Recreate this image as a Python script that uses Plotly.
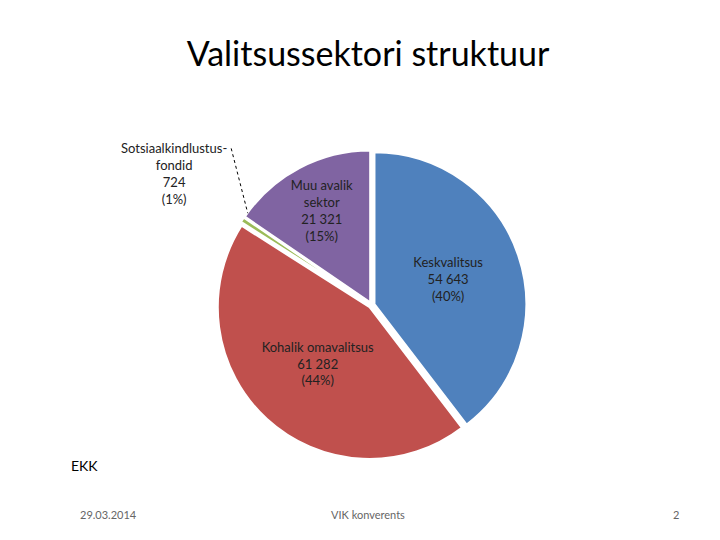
import plotly.graph_objects as go

labels = ["Keskvalitsus", "Kohalik omavalitsus", "Sotsiaalkindlustus-<br>fondid", "Muu avalik<br>sektor"]
values = [54643, 61282, 724, 21321]
value_text = ["54 643", "61 282", "724", "21 321"]
pct_text = ["(40%)", "(44%)", "(1%)", "(15%)"]
colors = ["#4F81BD", "#C0504D", "#9BBB59", "#8064A2"]

inside = [f"{l}<br>{v}<br>{p}" for l, v, p in zip(labels, value_text, pct_text)]
inside[2] = ""

fig = go.Figure()
fig.add_trace(go.Pie(
    labels=labels, values=values, text=inside, textinfo="text",
    textposition="inside", insidetextorientation="horizontal",
    sort=False, direction="clockwise", rotation=0,
    pull=[0.02, 0.02, 0.02, 0.02],
    marker=dict(colors=colors, line=dict(color="white", width=2)),
    textfont=dict(family="Lato", size=13, color="#222222"),
    domain=dict(x=[0.29, 0.72], y=[0.145, 0.755]),
    showlegend=False,
))

fig.add_annotation(x=0.23, y=0.76, xref="paper", yref="paper",
                   text=f"{labels[2]}<br>{value_text[2]}<br>{pct_text[2]}",
                   showarrow=False, xanchor="center", yanchor="top",
                   font=dict(family="Lato", size=13, color="#222222"))
fig.add_shape(type="line", xref="paper", yref="paper",
              x0=0.31, y0=0.74, x1=0.333, y1=0.62,
              line=dict(color="black", width=1, dash="dot"))

fig.update_layout(
    width=720, height=540, paper_bgcolor="white", plot_bgcolor="white",
    margin=dict(l=0, r=0, t=0, b=0),
    title=dict(text="Valitsussektori struktuur", x=0.5, y=0.915, xanchor="center",
               yanchor="middle", font=dict(family="Lato", size=34, color="black")),
)
fig.add_annotation(x=0.085, y=0.133, xref="paper", yref="paper", text="EKK",
                   showarrow=False, font=dict(family="Lato", size=14, color="black"))
fig.add_annotation(x=0.097, y=0.046, xref="paper", yref="paper", text="29.03.2014",
                   showarrow=False, font=dict(family="Lato", size=11, color="#666666"))
fig.add_annotation(x=0.5, y=0.046, xref="paper", yref="paper", text="VIK konverents",
                   showarrow=False, font=dict(family="Lato", size=11, color="#666666"))
fig.add_annotation(x=0.935, y=0.046, xref="paper", yref="paper", text="2",
                   showarrow=False, font=dict(family="Lato", size=11, color="#666666"))

fig.write_html("out.html")
